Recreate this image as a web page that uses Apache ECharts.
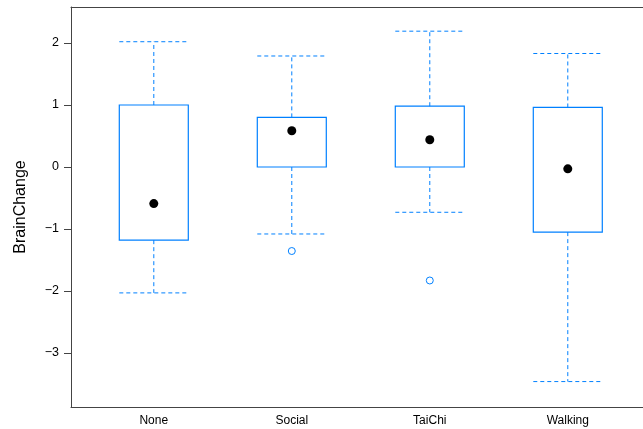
<!DOCTYPE html>
<html>
<head>
<meta charset="utf-8">
<script src="https://cdn.jsdelivr.net/npm/echarts@6/dist/echarts.min.js"></script>
<style>html,body{margin:0;padding:0;background:#fff}#c{width:643px;height:429px}</style>
</head>
<body>
<div id="c"></div>
<script>
const categories = ['None', 'Social', 'TaiChi', 'Walking'];
// [lowerWhisker, Q1, median, Q3, upperWhisker]
const boxStats = [
  [-2.03, -1.18, -0.59, 1.00, 2.02],
  [-1.08, 0.00, 0.585, 0.80, 1.79],
  [-0.73, 0.00, 0.44, 0.98, 2.19],
  [-3.46, -1.05, -0.03, 0.96, 1.83]
];
// [categoryIndex, value]
const outliers = [[1, -1.355], [2, -1.83]];
const yTicks = [-3, -2, -1, 0, 1, 2];

const BLUE = '#0080ff';
const BOXW = 0.5;
const FRAME = '#444';

const boxData = boxStats.map((s, i) => [i + 1].concat(s));
const medianData = boxStats.map((s, i) => [i + 1, s[2]]);
const outlierData = outliers.map(o => [o[0] + 1, o[1]]);

function renderBox(params, api) {
  const x = api.value(0);
  const lo = api.value(1), q1 = api.value(2), q3 = api.value(4), hi = api.value(5);
  const pL = api.coord([x - BOXW / 2, q3]);
  const pR = api.coord([x + BOXW / 2, q1]);
  const pc = api.coord([x, 0]);
  const yLo = api.coord([x, lo])[1], yHi = api.coord([x, hi])[1];
  const yQ1 = api.coord([x, q1])[1], yQ3 = api.coord([x, q3])[1];
  const dash = { stroke: BLUE, lineWidth: 1, lineDash: [4, 3] };
  return {
    type: 'group',
    children: [
      { type: 'rect', shape: { x: pL[0], y: pL[1], width: pR[0] - pL[0], height: pR[1] - pL[1] },
        style: { fill: 'none', stroke: BLUE, lineWidth: 1.2 } },
      { type: 'line', shape: { x1: pc[0], y1: yQ3, x2: pc[0], y2: yHi }, style: dash },
      { type: 'line', shape: { x1: pc[0], y1: yQ1, x2: pc[0], y2: yLo }, style: dash },
      { type: 'line', shape: { x1: pL[0], y1: yHi, x2: pR[0], y2: yHi }, style: dash },
      { type: 'line', shape: { x1: pL[0], y1: yLo, x2: pR[0], y2: yLo }, style: dash }
    ]
  };
}

const chart = echarts.init(document.getElementById('c'), null, { renderer: 'canvas' });
const FONT = 'Liberation Sans, Arial, sans-serif';
const xMin = 0.4, xMax = 4.545;
chart.setOption({
  animation: false,
  grid: { left: 71, top: 7, right: 0, bottom: 22, show: false },
  xAxis: [{
    type: 'value', min: xMin, max: xMax, position: 'bottom',
    axisLine: { show: true, onZero: false, lineStyle: { color: FRAME, width: 1 } },
    axisTick: { show: false }, splitLine: { show: false },
    axisLabel: {
      color: '#000', fontFamily: FONT, fontSize: 12, margin: 8,
      customValues: [1, 2, 3, 4],
      formatter: v => categories[Math.round(v) - 1] || ''
    }
  }, {
    type: 'value', min: xMin, max: xMax, position: 'top',
    axisLine: { show: true, onZero: false, lineStyle: { color: FRAME, width: 1 } },
    axisTick: { show: false }, splitLine: { show: false }, axisLabel: { show: false }
  }],
  yAxis: {
    type: 'value', min: -3.87, max: 2.58,
    name: 'BrainChange', nameLocation: 'middle', nameGap: 42, nameRotate: 90,
    nameTextStyle: { color: '#000', fontFamily: FONT, fontSize: 16 },
    axisLine: { show: true, onZero: false, lineStyle: { color: FRAME, width: 1 } },
    axisTick: { show: true, length: 7, lineStyle: { color: FRAME }, customValues: yTicks },
    splitLine: { show: false },
    axisLabel: {
      color: '#000', fontFamily: FONT, fontSize: 12.5, margin: 12,
      customValues: yTicks,
      formatter: v => (v < 0 ? '\u2212' + Math.abs(v) : String(v))
    }
  },
  series: [
    { type: 'custom', data: boxData, renderItem: renderBox, encode: { x: 0, y: [1, 2, 3, 4, 5] }, z: 2 },
    { type: 'scatter', data: medianData, symbol: 'circle', symbolSize: 9,
      itemStyle: { color: '#000', opacity: 1 }, z: 3 },
    { type: 'scatter', data: outlierData, symbol: 'circle', symbolSize: 7,
      itemStyle: { color: '#fff', borderColor: BLUE, borderWidth: 1, opacity: 1 }, z: 3 }
  ]
});
</script>
</body>
</html>
